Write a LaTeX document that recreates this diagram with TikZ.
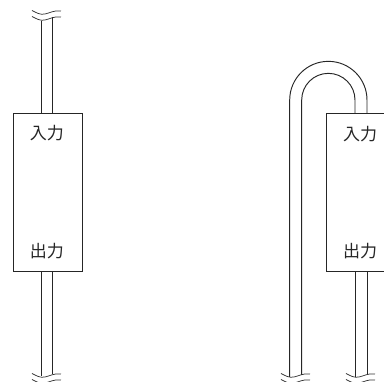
\documentclass[tikz,border=0pt]{standalone}
\usepackage{fontspec}
\newfontfamily\cjk{Noto Sans CJK JP}
\tikzset{
  ln/.style={draw=black!85,line width=0.95pt},
  unitbox/.style={ln,rectangle,minimum height=158pt,inner sep=0pt,anchor=north west},
  lbl/.style={font=\cjk\fontsize{17}{18}\selectfont,text=black!85,inner sep=0pt},
  brk/.style={draw=black!80,line width=0.75pt}
}
\newcommand{\breakmark}[2]{%
  \draw[brk] (#1-10,#2-3.5) .. controls (#1-5,#2-1) and (#1-2,#2+1) .. (#1+3,#2) .. controls (#1+8,#2-1) and (#1+12,#2-4) .. (#1+19,#2-3);
}
\begin{document}
\begin{tikzpicture}[x=1pt,y=-1pt]
\useasboundingbox (0,0) rectangle (384,382);
% boxes
\node[unitbox,minimum width=69pt] (boxA) at (13,113) {};
\node[unitbox,minimum width=80pt] (boxB) at (326,113) {};
% labels
\node[lbl] (inA) at (47,133) {入力};
\node[lbl] (outA) at (47,251) {出力};
\node[lbl] (inB) at (360,134) {入力};
\node[lbl] (outB) at (360,251) {出力};
% free ends
\coordinate (a1t) at (41,21);
\coordinate (a2t) at (52.5,17);
\coordinate (a1b) at (41,376);
\coordinate (a2b) at (52.5,374);
\coordinate (b1b) at (355,377);
\coordinate (b2b) at (367,375);
\coordinate (c1b) at (289.7,377);
\coordinate (c2b) at (301.7,375);
% left unit pipes
\draw[ln] (a1t) -- (a1t |- boxA.north);
\draw[ln] (a2t) -- (a2t |- boxA.north);
\draw[ln] (a1b) -- (a1b |- boxA.south);
\draw[ln] (a2b) -- (a2b |- boxA.south);
% right unit pipes
\draw[ln] (b1b) -- (b1b |- boxB.south);
\draw[ln] (b2b) -- (b2b |- boxB.south);
% arch
\draw[ln] (c1b) -- (289.7,100) arc[start angle=180,end angle=360,radius=38.65] -- (367,100 |- boxB.north);
\draw[ln] (c2b) -- (301.7,100) arc[start angle=180,end angle=360,radius=26.65] -- (355,100 |- boxB.north);
% break marks
\breakmark{42}{14}
\breakmark{42}{20}
\breakmark{42}{377}
\breakmark{42}{383}
\breakmark{291}{377}
\breakmark{291}{383}
\breakmark{356}{377}
\breakmark{356}{383}
\end{tikzpicture}
\end{document}
